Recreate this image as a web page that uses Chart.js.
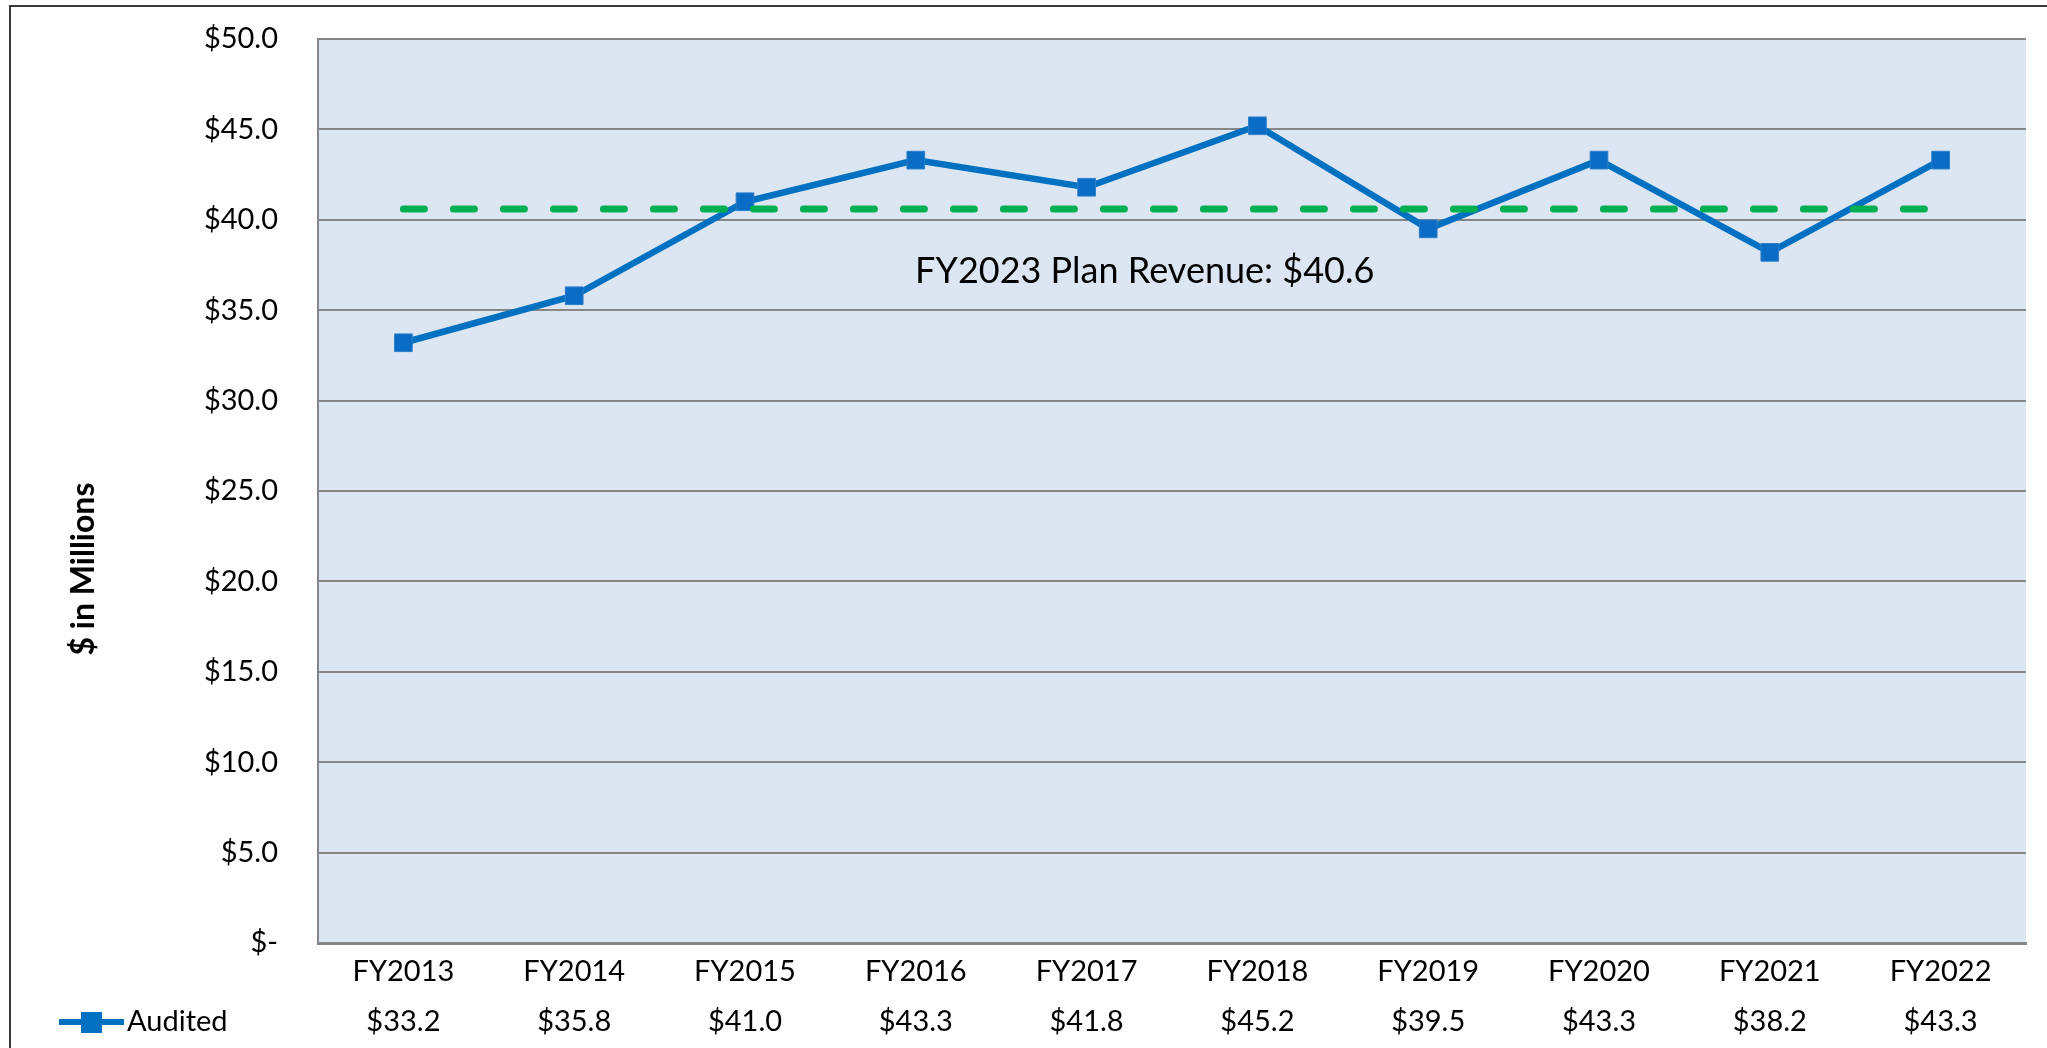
<!DOCTYPE html>
<html lang="en">
<head>
    <meta charset="UTF-8">
    <title>Audited Revenue</title>
    <script src="https://cdn.jsdelivr.net/npm/chart.js"></script>
    <style>
        html, body { margin: 0; padding: 0; background: #fff; overflow: hidden; }
        #wrap { position: relative; width: 2047px; height: 1048px; }
        #frame { position: absolute; left: 9px; top: 5px; right: -10px; bottom: -10px;
                 border-left: 2px solid #3a3a3a; border-top: 2px solid #3a3a3a; pointer-events: none; }
    </style>
</head>
<body>
    <div id="wrap">
        <canvas id="myChart" width="2047" height="1048"></canvas>
        <div id="frame"></div>
    </div>

    <script>
        // values
        const years = ['FY2013', 'FY2014', 'FY2015', 'FY2016', 'FY2017', 'FY2018', 'FY2019', 'FY2020', 'FY2021', 'FY2022'];
        const audited = [33.2, 35.8, 41.0, 43.3, 41.8, 45.2, 39.5, 43.3, 38.2, 43.3];
        const planRevenue = 40.6;
        const planLine = years.map(() => planRevenue);

        const blue = '#0070c0';
        const green = '#00b050';

        const money = v => v === 0 ? '$-' : '$' + v.toFixed(1);

        // plot background, axis title, plan label and the data-table legend key
        const extras = {
            id: 'extras',
            beforeDraw(chart) {
                const {ctx, chartArea: a} = chart;
                ctx.save();
                ctx.fillStyle = '#dce6f2';
                ctx.fillRect(a.left, a.top, a.right - a.left, a.bottom - a.top);
                ctx.restore();
            },
            afterDraw(chart) {
                const {ctx, scales: {x, y}} = chart;
                ctx.save();
                ctx.fillStyle = '#000';

                // y axis title
                ctx.translate(84, 569);
                ctx.rotate(-Math.PI / 2);
                ctx.font = 'bold 32px Lato';
                ctx.textAlign = 'center';
                ctx.textBaseline = 'middle';
                ctx.fillText('$ in Millions', 0, 0);
                ctx.setTransform(1, 0, 0, 1, 0, 0);

                // plan label
                ctx.font = '36px Lato';
                ctx.textAlign = 'center';
                ctx.textBaseline = 'alphabetic';
                ctx.fillText('FY2023 Plan Revenue: $' + planRevenue.toFixed(1), x.getPixelForValue(4.34), y.getPixelForValue(36.5));

                // legend key in data table row
                const ly = 1022;
                ctx.strokeStyle = blue;
                ctx.lineWidth = 6;
                ctx.beginPath();
                ctx.moveTo(59, ly);
                ctx.lineTo(124, ly);
                ctx.stroke();
                ctx.fillStyle = blue;
                ctx.fillRect(81, ly - 10, 21, 21);
                ctx.fillStyle = '#000';
                ctx.font = '29px Lato';
                ctx.textAlign = 'left';
                ctx.textBaseline = 'middle';
                ctx.fillText('Audited', 127, ly);
                ctx.restore();
            }
        };

        Chart.defaults.font.family = 'Lato';
        Chart.defaults.color = '#000';

        new Chart(document.getElementById('myChart'), {
            type: 'line',
            data: {
                labels: years,
                datasets: [{
                    label: 'FY2023 Plan Revenue',
                    data: planLine,
                    borderColor: green,
                    borderWidth: 7,
                    borderDash: [21, 29],
                    borderCapStyle: 'round',
                    pointRadius: 0,
                    order: 0
                }, {
                    label: 'Audited',
                    data: audited,
                    borderColor: blue,
                    borderWidth: 6.5,
                    pointStyle: 'rect',
                    pointRadius: 12.5,
                    pointBackgroundColor: '#0a6cc4',
                    pointBorderColor: '#2b7fcc',
                    pointBorderWidth: 1,
                    order: 1
                }]
            },
            options: {
                responsive: false,
                animation: false,
                layout: { padding: { top: 39, right: 21, left: 0, bottom: 0 } },
                plugins: {
                    legend: { display: false },
                    tooltip: { enabled: false }
                },
                scales: {
                    x: {
                        offset: true,
                        grid: { display: true, drawOnChartArea: false, drawTicks: false },
                        border: { color: '#868686', width: 3 },
                        ticks: {
                            font: { size: 29, lineHeight: 1.72 },
                            padding: 4,
                            maxRotation: 0,
                            autoSkip: false,
                            callback: (v, i) => [years[i], money(audited[i])]
                        },
                        afterFit: s => { s.height = 105; }
                    },
                    y: {
                        min: 0,
                        max: 50,
                        ticks: {
                            stepSize: 5,
                            font: { size: 29 },
                            padding: 40,
                            callback: v => money(v)
                        },
                        grid: { color: '#868686', lineWidth: 2, drawTicks: false },
                        border: { color: '#868686', width: 2 },
                        afterFit: s => {
                            s.width = 318;
                            s.paddingTop = 0;
                            s.paddingBottom = 0;
                        }
                    }
                }
            },
            plugins: [extras]
        });
    </script>
</body>
</html>
